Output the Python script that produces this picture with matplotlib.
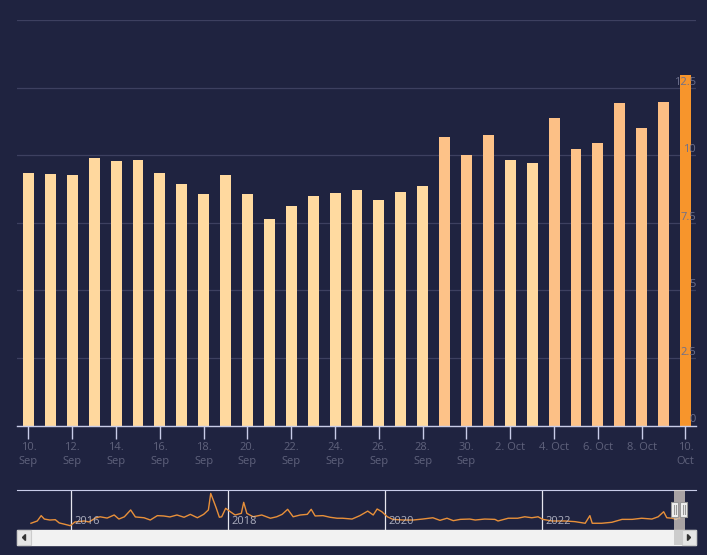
import numpy as np
import pandas as pd
import matplotlib
matplotlib.use('Agg')
from matplotlib import pyplot as plt
from matplotlib.patches import Rectangle, Polygon

# daily values, 10 Sep - 10 Oct 2023
days = pd.date_range('2023-09-10', '2023-10-10', freq='D')
values = [9.34, 9.31, 9.27, 9.90, 9.79, 9.83, 9.34, 8.94, 8.57, 9.27, 8.57,
          7.64, 8.12, 8.49, 8.60, 8.71, 8.34, 8.64, 8.86, 10.68, 10.01, 10.75,
          9.83, 9.71, 11.39, 10.23, 10.46, 11.94, 11.01, 11.98, 12.98]
y_ticks = [0, 2.5, 5, 7.5, 10, 12.5, 15]
y_labels = ['0', '2.5', '5', '7.5', '10', '12.5', '']

# navigator series (decimal year, value)
nav_year = [2015.49, 2015.57, 2015.62, 2015.66, 2015.73, 2015.80, 2015.85, 2015.91, 2015.99,
            2016.05, 2016.17, 2016.23, 2016.31, 2016.37, 2016.46, 2016.55, 2016.61, 2016.68,
            2016.76, 2016.82, 2016.93, 2017.01, 2017.10, 2017.18, 2017.26, 2017.35, 2017.44,
            2017.52, 2017.61, 2017.69, 2017.75, 2017.78, 2017.82, 2017.85, 2017.89, 2017.92,
            2017.97, 2018.03, 2018.09, 2018.17, 2018.20, 2018.24, 2018.32, 2018.43, 2018.54,
            2018.62, 2018.69, 2018.76, 2018.83, 2018.92, 2019.01, 2019.06, 2019.11, 2019.21,
            2019.30, 2019.39, 2019.46, 2019.58, 2019.68, 2019.78, 2019.85, 2019.90, 2019.96,
            2020.03, 2020.10, 2020.23, 2020.36, 2020.48, 2020.61, 2020.70, 2020.79, 2020.87,
            2020.96, 2021.08, 2021.15, 2021.27, 2021.40, 2021.44, 2021.57, 2021.69, 2021.78,
            2021.87, 2021.95, 2022.01, 2022.13, 2022.29, 2022.42, 2022.55, 2022.61, 2022.64,
            2022.76, 2022.89, 2023.02, 2023.15, 2023.27, 2023.40, 2023.48, 2023.55, 2023.59,
            2023.66, 2023.71, 2023.73, 2023.75, 2023.78]
nav_value = [7.3, 8.7, 12.0, 9.9, 9.3, 9.5, 7.5, 6.8, 5.8,
             8.1, 8.7, 8.1, 10.5, 11.3, 10.5, 12.4, 9.9, 11.3,
             15.5, 11.2, 10.7, 9.3, 12.0, 11.8, 11.2, 12.4, 11.0,
             12.8, 10.7, 12.8, 15.5, 25.7, 20.6, 16.7, 11.0, 11.3,
             16.5, 14.4, 12.4, 13.4, 20.2, 13.4, 11.3, 12.4, 10.4,
             11.3, 12.8, 15.9, 11.3, 12.4, 12.8, 15.9, 11.8, 12.0,
             11.0, 10.4, 10.4, 9.9, 12.0, 14.8, 12.4, 16.1, 14.4,
             11.3, 9.7, 9.3, 9.3, 9.9, 10.7, 9.1, 10.4, 8.9,
             9.7, 9.9, 9.3, 9.9, 9.7, 8.7, 10.4, 10.4, 11.3,
             10.7, 11.3, 9.7, 8.7, 8.7, 8.3, 7.3, 12.0, 7.3,
             7.3, 7.9, 9.7, 9.7, 10.4, 9.9, 11.3, 14.4, 10.7,
             10.4, 9.6, 10.7, 10.5, 11.3]
nav_years_lbl = [2016, 2018, 2020, 2022]

BG = '#1f2340'
W, H = 707, 555


def bar_color(v):
    # colour scale: pale below 10, deeper orange towards the top
    stops = [7.5, 9.95, 10.0, 12.0, 13.0]
    cols = ['#ffdca2', '#ffd89e', '#fdc48a', '#fcbe84', '#f7942a']
    rgb = np.array([matplotlib.colors.to_rgb(c) for c in cols])
    return tuple(np.interp(v, stops, rgb[:, i]) for i in range(3))


fig = plt.figure(figsize=(W / 100, H / 100), dpi=100, facecolor=BG)
plt.rcParams['font.family'] = ['Open Sans', 'DejaVu Sans']


def px_axes(x0, y0, x1, y1):
    return fig.add_axes([x0 / W, 1 - y1 / H, (x1 - x0) / W, (y1 - y0) / H])


# main chart
ax = px_axes(17, 20, 696, 425.5)
ax.set_facecolor(BG)
x = np.arange(len(days))
ax.bar(x, values, width=0.5, color=[bar_color(v) for v in values], zorder=2)
ax.set_xlim(-0.525, len(days) - 0.52)
ax.set_ylim(0, 15)
ax.set_yticks(y_ticks)
ax.grid(axis='y', color='#3d4060', linewidth=0.9, zorder=0)
ax.tick_params(axis='y', length=0, labelleft=False)
for t, lab in zip(y_ticks, y_labels):
    ax.text(1.0, t, lab, transform=ax.get_yaxis_transform(), ha='right', va='bottom',
            fontsize=8, color='#6c6f8c', zorder=3)
for s in ['top', 'left', 'right']:
    ax.spines[s].set_visible(False)
ax.spines['bottom'].set_color('#c8cce8')
ax.spines['bottom'].set_linewidth(1)

tick_idx = x[::2]
tick_lab = []
for i in tick_idx:
    d = days[i]
    if d.month == 10 and d.day < 10:
        tick_lab.append(f'{d.day}. {d.strftime("%b")}')
    else:
        tick_lab.append(f'{d.day}.\n{d.strftime("%b")}')
ax.set_xticks(tick_idx)
ax.set_xticklabels(tick_lab, fontsize=8, color='#5f627c', linespacing=1.35, va='top')
ax.tick_params(axis='x', length=9, width=1, color='#c8cce8', pad=3)

# navigator
nav = px_axes(17, 490, 696, 530)
nav.set_facecolor(BG)
nav.plot(nav_year, nav_value, color='#e8903a', linewidth=1.0, zorder=3)
nav.set_xlim(2015.312, 2023.962)
nav.set_ylim(3.15, 27.8)
for yr in nav_years_lbl:
    nav.axvline(yr, color='#e6e6ee', linewidth=0.9, zorder=1)
    nav.text(yr + 0.04, 0.08, str(yr), fontsize=8, color='#c4c6d4', alpha=0.85,
             transform=nav.get_xaxis_transform(), ha='left', va='bottom', zorder=4)
nav.set_xticks([])
nav.set_yticks([])
for s in ['bottom', 'left', 'right']:
    nav.spines[s].set_visible(False)
nav.spines['top'].set_color('#c8cce8')

# scrollbar and mask, drawn in figure pixels
ov = fig.add_axes([0, 0, 1, 1])
ov.set_xlim(0, W)
ov.set_ylim(H, 0)
ov.axis('off')
ov.patch.set_alpha(0)
ov.add_patch(Rectangle((17, 530), 679, 15, facecolor='#f2f2f2', edgecolor='#f2f2f2'))
ov.add_patch(Rectangle((674, 490), 11, 55, facecolor='#d8cfc6', alpha=0.75, edgecolor='none'))
ov.add_patch(Rectangle((674, 530), 11, 15, facecolor='#cccccc', edgecolor='none'))
ov.add_patch(Rectangle((17, 530), 14, 15, facecolor='#e6e6e6', edgecolor='#cccccc', linewidth=0.8))
ov.add_patch(Rectangle((682, 530), 14, 15, facecolor='#e6e6e6', edgecolor='#cccccc', linewidth=0.8))
ov.add_patch(Polygon([[25.5, 534.5], [25.5, 540.5], [22.5, 537.5]], color='#333333'))
ov.add_patch(Polygon([[687.5, 534.5], [687.5, 540.5], [690.5, 537.5]], color='#333333'))
for hx in (671, 680):
    ov.add_patch(Rectangle((hx, 502), 7, 15, facecolor='#f2f2f2', edgecolor='#999999', linewidth=0.8))
    ov.plot([hx + 2.5, hx + 2.5], [505, 514], color='#999999', linewidth=0.8)
    ov.plot([hx + 4.5, hx + 4.5], [505, 514], color='#999999', linewidth=0.8)

fig.savefig('out.png', dpi=100, facecolor=BG)
